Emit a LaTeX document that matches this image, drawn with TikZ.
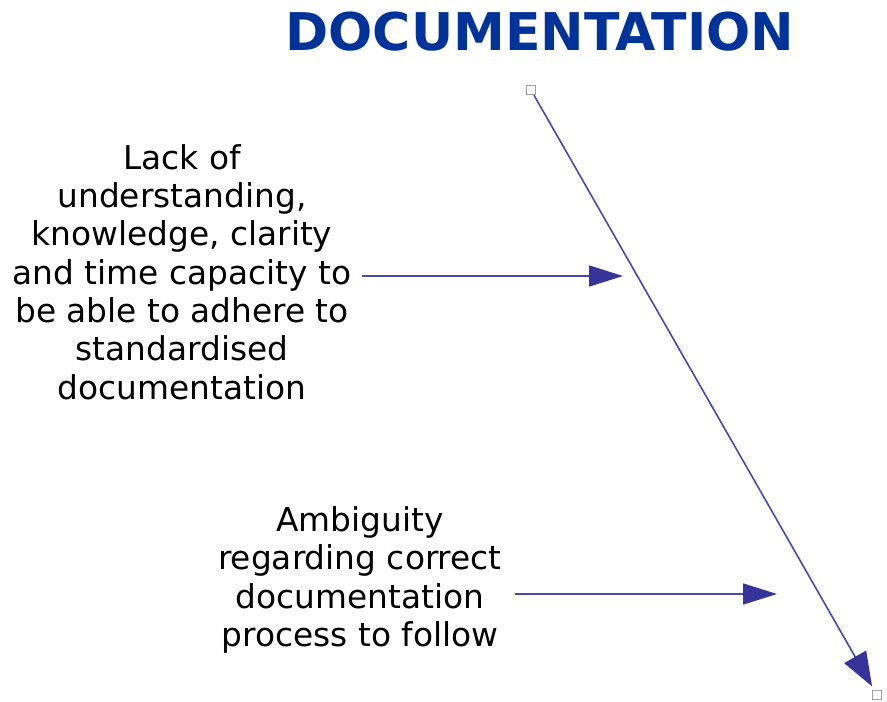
\documentclass[tikz,border=0pt]{standalone}
\usepackage{fontspec}
\setmainfont{DejaVu Sans}
\usetikzlibrary{arrows.meta}
\definecolor{titleblue}{HTML}{003399}
\definecolor{linkblue}{HTML}{34349A}
\definecolor{stemblue}{HTML}{4848AE}
\tikzset{
  causetext/.style={align=center, inner sep=0pt, font=\fontsize{32.8}{38.3}\selectfont},
  link/.style={draw=stemblue, line width=1.6pt, -{Triangle[length=34pt, width=21pt, color=linkblue, fill=linkblue]}},
  spine/.style={draw=stemblue, line width=1.6pt, -{Triangle[length=34pt, width=25pt, color=linkblue, fill=linkblue]}, shorten >=4pt},
  handle/.style={draw=gray!75, fill=white, line width=1.4pt, minimum size=9pt, inner sep=0pt}
}
\begin{document}
\begin{tikzpicture}[x=1pt, y=-1pt]
  \useasboundingbox (0,0) rectangle (887,702);

  % heading
  \node[font=\fontsize{52}{60}\selectfont\bfseries, text=titleblue] (title) at (540,32) {DOCUMENTATION};

  % main bone with its end handles
  \node[handle] (top) at (531,90) {};
  \node[handle] (bottom) at (877,695) {};
  \draw[spine] (top) -- (bottom);

  % first cause
  \node[causetext] (cause1) at (182,272) {Lack of\\understanding,\\knowledge, clarity\\and time capacity to\\be able to adhere to\\standardised\\documentation};
  \coordinate (c1start) at (362,276);
  \coordinate (c1end) at (623,276);
  \draw[link] (c1start) -- (c1end);

  % second cause
  \node[causetext] (cause2) at (360,580) {Ambiguity\\regarding correct\\documentation\\process to follow};
  \coordinate (c2start) at (515,594);
  \coordinate (c2end) at (777,594);
  \draw[link] (c2start) -- (c2end);
\end{tikzpicture}
\end{document}
